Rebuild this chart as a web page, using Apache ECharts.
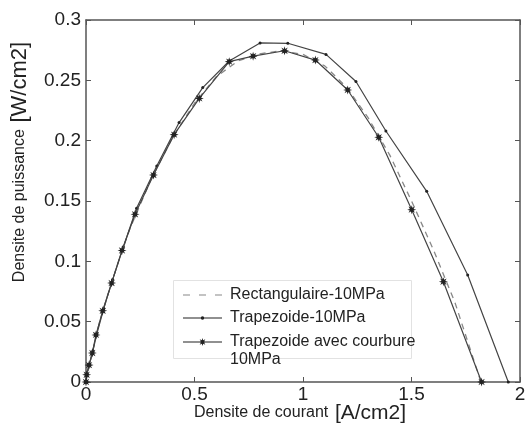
<!DOCTYPE html>
<html>
<head>
<meta charset="utf-8">
<script src="https://cdn.jsdelivr.net/npm/echarts@6/dist/echarts.min.js"></script>
<style>html,body{margin:0;padding:0;background:#fff}#c{width:529px;height:434px}</style>
</head>
<body>
<div id="c"></div>
<script>
// Data
const xTicks = [0, 0.5, 1, 1.5, 2];
const yTicks = [0, 0.05, 0.1, 0.15, 0.2, 0.25, 0.3];

const rectX = [0, 0.01, 0.03, 0.06, 0.1, 0.15, 0.2, 0.3, 0.4, 0.5, 0.6, 0.7, 0.8, 0.9, 1.0, 1.1, 1.2, 1.3, 1.4, 1.5, 1.6, 1.7, 1.82];
const rectY = [0, 0.01, 0.025, 0.048, 0.072, 0.1, 0.126, 0.168, 0.203, 0.231, 0.253, 0.266, 0.272, 0.2745, 0.2715, 0.262, 0.2445, 0.219, 0.188, 0.15, 0.11, 0.066, 0];

const trapX = [0, 0.004, 0.016, 0.032, 0.05, 0.082, 0.123, 0.172, 0.233, 0.326, 0.429, 0.538, 0.66, 0.802, 0.93, 1.106, 1.244, 1.382, 1.57, 1.759, 1.946];
const trapY = [0, 0.007, 0.015, 0.026, 0.04, 0.061, 0.085, 0.112, 0.144, 0.179, 0.215, 0.244, 0.266, 0.281, 0.2807, 0.2715, 0.249, 0.208, 0.158, 0.0887, 0];

const courbX = [0, 0.003, 0.014, 0.029, 0.046, 0.077, 0.118, 0.166, 0.226, 0.311, 0.406, 0.522, 0.66, 0.77, 0.915, 1.057, 1.206, 1.349, 1.501, 1.647, 1.823];
const courbY = [0, 0.006, 0.014, 0.024, 0.039, 0.059, 0.082, 0.109, 0.139, 0.1715, 0.205, 0.235, 0.2655, 0.270, 0.2745, 0.2668, 0.242, 0.2028, 0.1428, 0.0831, 0];

const names = ['Rectangulaire-10MPa', 'Trapezoide-10MPa', 'Trapezoide avec courbure\n10MPa'];

const zip = (xs, ys) => xs.map((x, i) => [x, ys[i]]);
const starPath = 'path://M10,0 L4.16,1.72 L7.07,7.07 L1.72,4.16 L0,10 L-1.72,4.16 L-7.07,7.07 L-4.16,1.72 L-10,0 L-4.16,-1.72 L-7.07,-7.07 L-1.72,-4.16 L0,-10 L1.72,-4.16 L7.07,-7.07 L4.16,-1.72 Z';

// legend icons (line sample + marker), drawn in a 39 x 10 box
const corners = 'M0,0 L0.01,0 L0,0.01 Z M39,10 L38.99,10 L39,9.99 Z ';
const iconDash = 'path://' + corners + 'M0,4.4 L7,4.4 L7,5.6 L0,5.6 Z M16,4.4 L23,4.4 L23,5.6 L16,5.6 Z M32,4.4 L39,4.4 L39,5.6 L32,5.6 Z';
const iconDot = 'path://' + corners + 'M0,4.4 L39,4.4 L39,5.6 L0,5.6 Z M21.3,5 A1.8,1.8 0 1 1 17.7,5 A1.8,1.8 0 1 1 21.3,5 Z';
const iconStar = 'path://' + corners + 'M0,4.4 L39,4.4 L39,5.6 L0,5.6 Z M23.5,5 L21.2,5.7 L22.3,7.8 L20.2,6.7 L19.5,9 L18.8,6.7 L16.7,7.8 L17.8,5.7 L15.5,5 L17.8,4.3 L16.7,2.2 L18.8,3.3 L19.5,1 L20.2,3.3 L22.3,2.2 L21.2,4.3 Z';

const axisCol = '#555';
const font = 'Liberation Sans, Arial, Helvetica, sans-serif';

const chart = echarts.init(document.getElementById('c'), null, {renderer: 'canvas'});
const baseAxis = {
  type: 'value',
  axisLine: {show: true, onZero: false, lineStyle: {color: axisCol, width: 1.5}},
  axisTick: {show: true, inside: true, length: 5, lineStyle: {color: axisCol, width: 1}},
  splitLine: {show: false}
};
const legendText = {fontSize: 16, fontFamily: font, color: '#222', lineHeight: 18, padding: [0, 0, 0, 3]};
chart.setOption({
  animation: false,
  backgroundColor: '#fff',
  grid: {left: 86, top: 20, right: 9, bottom: 52},
  xAxis: [
    Object.assign({}, baseAxis, {min: 0, max: 2, interval: 0.5, position: 'bottom',
      axisLabel: {color: '#222', fontSize: 19, fontFamily: font, margin: 3}}),
    Object.assign({}, baseAxis, {min: 0, max: 2, interval: 0.5, position: 'top', axisLabel: {show: false}})
  ],
  yAxis: [
    Object.assign({}, baseAxis, {min: 0, max: 0.3, interval: 0.05, position: 'left',
      axisLabel: {color: '#222', fontSize: 19, fontFamily: font, margin: 5}}),
    Object.assign({}, baseAxis, {min: 0, max: 0.3, interval: 0.05, position: 'right', axisLabel: {show: false}})
  ],
  legend: [
    {
      orient: 'vertical', left: 173, top: 286, padding: [0, 0, 0, 10], itemGap: 5,
      itemWidth: 39, itemHeight: 10, z: 6, textStyle: legendText,
      data: [{name: names[0], icon: iconDash}, {name: names[1], icon: iconDot}]
    },
    {
      orient: 'vertical', left: 173, top: 315, padding: [0, 0, 0, 10],
      itemWidth: 39, itemHeight: 10, z: 6, textStyle: legendText,
      formatter: function (name) { return '\n' + name; },
      data: [{name: names[2], icon: iconStar}]
    }
  ],
  series: [
    {name: names[0], type: 'line', data: zip(rectX, rectY), symbol: 'none', showSymbol: false,
      lineStyle: {color: '#888', width: 1.3, type: [6, 5]}, itemStyle: {color: '#888'}, z: 2},
    {name: names[1], type: 'line', data: zip(trapX, trapY), symbol: 'circle', symbolSize: 3,
      lineStyle: {color: '#444', width: 1.2}, itemStyle: {color: '#222'}, z: 3},
    {name: names[2], type: 'line', data: zip(courbX, courbY), symbol: starPath, symbolSize: 9,
      lineStyle: {color: '#444', width: 1.2}, itemStyle: {color: '#222'}, z: 4}
  ],
  graphic: [
    {type: 'rect', left: 173, top: 280, z: 5, shape: {width: 238, height: 78},
      style: {fill: '#fff', stroke: '#e2e2e2', lineWidth: 1}},
    {type: 'text', x: 300, y: 413, style: {
      text: '{a|Densite de courant}  {b|[A/cm2]}', align: 'center', verticalAlign: 'middle', fontFamily: font, fill: '#222',
      rich: {a: {fontSize: 16, fontFamily: font, fill: '#222'}, b: {fontSize: 21, fontFamily: font, fill: '#222'}}}},
    {type: 'text', x: 20, y: 162, rotation: Math.PI / 2, style: {
      text: '{a|Densite de puissance}  {b|[W/cm2]}', align: 'center', verticalAlign: 'middle', fontFamily: font, fill: '#222',
      rich: {a: {fontSize: 16, fontFamily: font, fill: '#222'}, b: {fontSize: 22, fontFamily: font, fill: '#222'}}}}
  ]
});
</script>
</body>
</html>
